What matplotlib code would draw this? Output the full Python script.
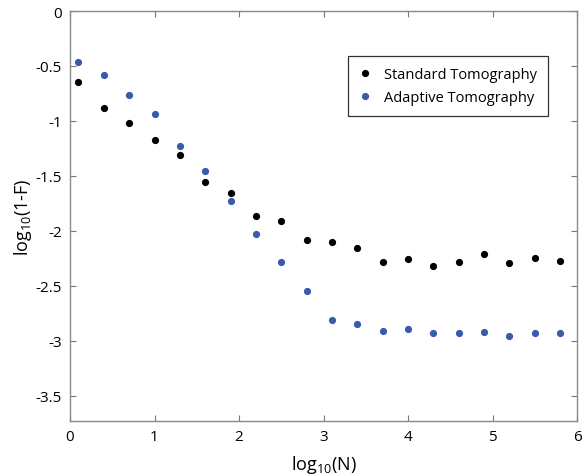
import matplotlib
matplotlib.use("Agg")
import matplotlib.pyplot as plt

plt.rcParams['font.family'] = ['Open Sans', 'DejaVu Sans']
plt.rcParams['mathtext.default'] = 'regular'

log_n = [0.1, 0.4, 0.7, 1.0, 1.3, 1.6, 1.9, 2.2, 2.5, 2.8,
         3.1, 3.4, 3.7, 4.0, 4.3, 4.6, 4.9, 5.2, 5.5, 5.8]
standard = [-0.648, -0.882, -1.021, -1.176, -1.309, -1.555, -1.658, -1.864, -1.915, -2.079,
            -2.097, -2.155, -2.285, -2.258, -2.318, -2.285, -2.212, -2.294, -2.248, -2.270]
adaptive = [-0.464, -0.585, -0.764, -0.939, -1.227, -1.452, -1.724, -2.033, -2.282, -2.545,
            -2.809, -2.848, -2.909, -2.894, -2.930, -2.927, -2.924, -2.961, -2.927, -2.930]
x_ticks = [0, 1, 2, 3, 4, 5, 6]
y_ticks = [0, -0.5, -1, -1.5, -2, -2.5, -3, -3.5]
y_tick_labels = ['0', '-0.5', '-1', '-1.5', '-2', '-2.5', '-3', '-3.5']

fig = plt.figure(figsize=(5.82, 4.77), dpi=100)
ax = fig.add_axes([70/582, 1-422/477, (577-70)/582, (422-12)/477])

ax.plot(log_n, standard, 'o', color='black', markersize=5.2, markeredgewidth=0,
        label='Standard Tomography')
ax.plot(log_n, adaptive, 'o', color='#3a5aab', markersize=5.2, markeredgewidth=0,
        label='Adaptive Tomography')

ax.set_xlim(0, 6)
ax.set_ylim(-3.73, 0)
ax.set_xticks(x_ticks)
ax.set_yticks(y_ticks)
ax.set_yticklabels(y_tick_labels)
ax.tick_params(direction='in', top=True, right=True, length=4, width=0.8,
               color='#777777', labelsize=11, pad=6)
for s in ax.spines.values():
    s.set_color('#888888')
    s.set_linewidth(1.0)

ax.set_xlabel(r'log$_{10}$(N)', fontsize=13, labelpad=6)
ax.set_ylabel(r'log$_{10}$(1-F)', fontsize=13, labelpad=1)

leg = ax.legend(loc='upper right', bbox_to_anchor=(548/582, 1-57/477),
                bbox_transform=fig.transFigure, fontsize=10.5, frameon=True,
                fancybox=False, edgecolor='black', handletextpad=0.9,
                borderpad=0.75, borderaxespad=0, handlelength=0.8, labelspacing=0.55)
leg.get_frame().set_linewidth(0.9)

fig.savefig('out.png', dpi=100)
